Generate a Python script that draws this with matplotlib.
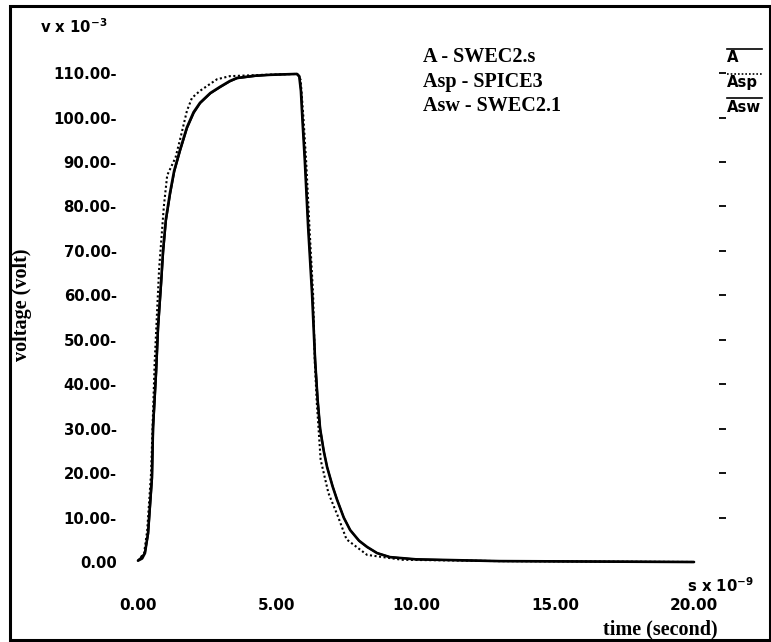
import matplotlib
matplotlib.use("Agg")
import matplotlib.pyplot as plt
from matplotlib.lines import Line2D
from matplotlib.patches import Rectangle

# ---- data (time in ns, voltage in mV) ----
a_t = [0.0, 0.15, 0.25, 0.36, 0.50, 0.54, 0.65, 0.72, 0.83, 0.90, 1.00, 1.15, 1.30, 1.51, 1.76, 2.00,
       2.23, 2.60, 2.95, 3.30, 3.56, 4.20, 4.75, 5.72, 5.80, 5.86, 5.92, 6.00, 6.12, 6.26, 6.37, 6.46,
       6.55, 6.68, 6.80, 7.00, 7.16, 7.40, 7.63, 7.95, 8.24, 8.60, 9.06, 10.0, 13.0, 20.0]
a_v = [0.3, 0.8, 2.0, 6.5, 19.0, 30.4, 43.0, 53.0, 63.0, 70.0, 77.0, 83.0, 88.0, 92.7, 97.8, 101.2,
       103.3, 105.5, 106.9, 108.2, 108.9, 109.4, 109.6, 109.8, 109.3, 106.0, 99.0, 90.4, 75.4, 60.5, 45.4, 36.5,
       30.0, 25.0, 21.4, 17.0, 14.0, 10.0, 7.2, 4.8, 3.4, 2.0, 1.1, 0.6, 0.2, 0.0]

asp_t = [0.0, 0.22, 0.33, 0.47, 0.60, 0.76, 0.93, 1.05, 1.35, 1.55, 1.76, 1.94, 2.23, 2.84, 3.30,
         4.50, 5.72, 5.85, 5.95, 6.05, 6.17, 6.30, 6.36, 6.43, 6.57, 6.85, 7.19, 7.50, 8.24, 9.50, 13.0, 20.0]
asp_v = [0.3, 2.0, 7.0, 20.0, 45.0, 66.0, 80.0, 87.0, 91.0, 96.0, 101.5, 104.4, 106.0, 108.6, 109.3,
         109.6, 109.8, 108.5, 100.0, 90.0, 75.0, 60.0, 45.0, 36.0, 23.0, 15.5, 10.3, 5.1, 1.6, 0.5, 0.2, 0.0]

asw_t = [0.0, 0.25, 0.37, 0.51, 0.55, 0.66, 0.73, 0.84, 0.91, 1.01, 1.16, 1.31, 1.52, 1.77, 2.01,
         2.24, 2.61, 2.96, 3.31, 3.57, 4.21, 4.75, 5.72, 5.81, 5.87, 5.93, 6.01, 6.13, 6.27, 6.38,
         6.47, 6.56, 6.69, 6.81, 7.01, 7.17, 7.41, 7.64, 7.96, 8.25, 8.61, 9.07, 10.0, 13.0, 20.0]
asw_v = [0.3, 2.0, 6.3, 18.7, 30.0, 42.6, 52.6, 62.6, 69.6, 76.7, 82.7, 87.8, 92.5, 97.6, 101.0,
         103.2, 105.4, 106.8, 108.1, 108.8, 109.3, 109.6, 109.8, 109.2, 105.8, 98.8, 90.2, 75.2, 60.3, 45.2,
         36.3, 29.8, 24.8, 21.2, 16.9, 13.9, 9.9, 7.1, 4.7, 3.3, 2.0, 1.1, 0.6, 0.2, 0.0]

x_ticks = [0, 5, 10, 15, 20]
x_labels = ["0.00", "5.00", "10.00", "15.00", "20.00"]
y_ticks = [0, 10, 20, 30, 40, 50, 60, 70, 80, 90, 100, 110]
y_labels = ["0.00", "10.00-", "20.00-", "30.00-", "40.00-", "50.00-", "60.00-",
            "70.00-", "80.00-", "90.00-", "100.00-", "110.00-"]

legend_names = ["A - SWEC2.s", "Asp - SPICE3", "Asw - SWEC2.1"]
short_names = ["A", "Asp", "Asw"]

W, H = 771, 642
fig = plt.figure(figsize=(W / 100, H / 100), dpi=100)

def fx(px):
    return px / W

def fy(py):
    return 1 - py / H

left_px, right_px, top_px, bot_px = 125, 719, 45, 585
ax = fig.add_axes([fx(left_px), fy(bot_px), fx(right_px - left_px), (bot_px - top_px) / H])

# data->pixel calibration: t=0 at 138px, 27.8 px/ns ; v=0 at 562px, 4.445 px/mV
ax.set_xlim((left_px - 138) / 27.8, (right_px - 138) / 27.8)
ax.set_ylim((562 - bot_px) / 4.445, (562 - top_px) / 4.445)

ax.plot(asw_t, asw_v, color="black", lw=1.3, solid_capstyle="round", solid_joinstyle="round")
ax.plot(a_t, a_v, color="black", lw=1.9, solid_capstyle="round", solid_joinstyle="round")
ax.plot(asp_t, asp_v, color="black", lw=1.5, linestyle=(0, (1, 1.2)))

for s in ax.spines.values():
    s.set_visible(False)

ax.set_xticks(x_ticks)
ax.set_xticklabels(x_labels, fontweight="bold", fontsize=11, family="DejaVu Sans")
ax.set_yticks(y_ticks)
ax.set_yticklabels(y_labels, fontweight="bold", fontsize=10.7, family="DejaVu Sans")
ax.tick_params(axis="x", bottom=False, pad=6)
ax.tick_params(axis="y", left=False, right=True, labelleft=True, labelright=False,
               direction="out", length=5, width=1.3, pad=1)
ax.yaxis.get_major_ticks()[0].tick2line.set_visible(False)

bold_sans = dict(fontweight="bold", family="DejaVu Sans", fontsize=10.7)
serif = dict(fontweight="bold", family="Liberation Serif")

fig.text(fx(40), fy(27), r"v x 10$^{\mathbf{-3}}$", ha="left", va="center", **bold_sans)
fig.text(fx(687), fy(586), r"s x 10$^{\mathbf{-9}}$", ha="left", va="center", **bold_sans)
fig.text(fx(660), fy(629), "time (second)", ha="center", va="center", fontsize=14.5, **serif)
fig.text(fx(22), fy(305), "voltage (volt)", ha="center", va="center", rotation=90, fontsize=14.5, **serif)

rows = [57, 82, 106]
for name, y in zip(legend_names, rows):
    fig.text(fx(423), fy(y), name, ha="left", va="center", fontsize=14.5, **serif)
styles = ["-", (0, (1, 1.2)), "-"]
for name, y, st in zip(short_names, rows, styles):
    fig.text(fx(727), fy(y + 1), name, ha="left", va="center", **bold_sans)
    fig.add_artist(Line2D([fx(727), fx(762)], [fy(y - 8), fy(y - 8)], color="black",
                          lw=1.2, linestyle=st))

fig.add_artist(Rectangle((fx(10), fy(640)), fx(760), (640 - 6) / H, fill=False,
                         edgecolor="black", lw=2.2))

fig.savefig("out.png", dpi=100)
